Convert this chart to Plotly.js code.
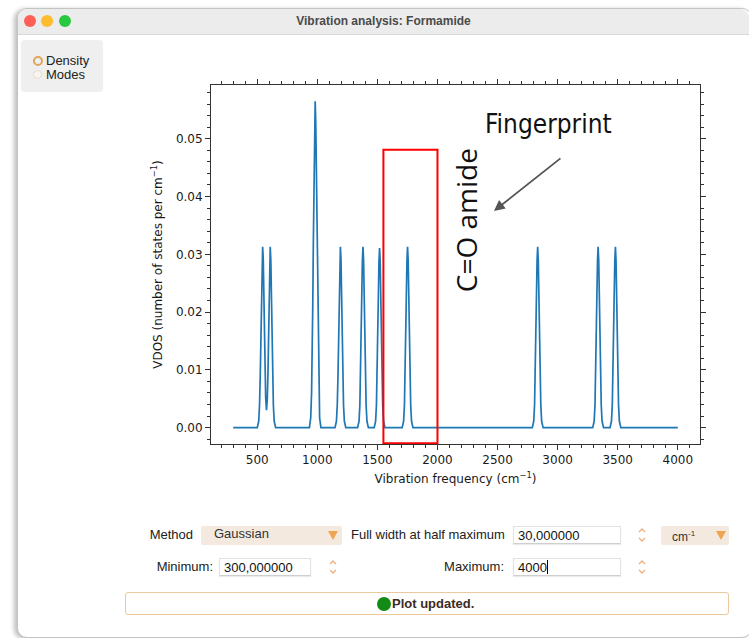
<!DOCTYPE html>
<html><head><meta charset="utf-8">
<script src="https://cdn.plot.ly/plotly-3.0.1.min.js"></script>
<style>
html,body{margin:0;padding:0;width:749px;height:638px;overflow:hidden;background:#fff;font-family:"Liberation Sans",Arial,sans-serif;}
.abs{position:absolute;}
#win{left:17px;top:8px;width:733px;height:628px;border:1px solid #c4c4c4;border-radius:10px;background:#fff;box-shadow:-3px 1px 4px rgba(0,0,0,0.25);}
#titlebar{left:18px;top:9px;width:731px;height:25px;background:#ececec;border-bottom:1px solid #d8d8d8;border-radius:9px 9px 0 0;}
.light{width:12px;height:12px;border-radius:50%;top:15px;}
#wtitle{left:18px;width:731px;top:14px;text-align:center;font-weight:bold;font-size:12px;color:#4a4a4a;line-height:14px;}
#panel{left:21px;top:40px;width:82px;height:52px;background:#efefef;border-radius:4px;}
.lbl{font-size:13px;color:#222;line-height:16px;height:16px;white-space:nowrap;}
.rlbl{text-align:right;}
.drop{background:#f4e9df;height:19px;border-radius:2px;}
.tri{width:0;height:0;border-left:5px solid transparent;border-right:5px solid transparent;border-top:9px solid #f0a452;}
.inp{background:#fff;height:18px;border:1px solid #e3e3e3;border-bottom-color:#cfcfcf;box-shadow:0 1px 1px rgba(0,0,0,0.08);font-size:13px;line-height:18px;color:#111;padding-left:4px;box-sizing:border-box;}
#chart{left:0;top:0;width:749px;height:638px;z-index:1;}
.ui{z-index:2;}
</style>
</head><body>
<div id="win" class="abs"></div>
<div id="titlebar" class="abs"></div>
<div class="abs light" style="left:24px;background:#fe5f57;"></div>
<div class="abs light" style="left:41px;background:#febc2e;"></div>
<div class="abs light" style="left:59px;background:#28c840;"></div>
<div id="wtitle" class="abs">Vibration analysis: Formamide</div>
<div id="panel" class="abs"></div>
<div class="abs" style="left:33px;top:56px;width:6px;height:6px;border:2.5px solid #e2a55e;border-radius:50%;"></div>
<div class="abs lbl" style="left:46px;top:53px;">Density</div>
<div class="abs" style="left:33px;top:70px;width:9px;height:9px;border:1px solid #e6d9cb;background:#f8f4ef;border-radius:50%;box-sizing:border-box;"></div>
<div class="abs lbl" style="left:46px;top:67px;">Modes</div>

<div id="chart" class="abs"></div>

<div class="abs lbl rlbl ui" style="left:100px;width:93px;top:527px;">Method</div>
<div class="abs drop ui" style="left:201px;top:526px;width:141px;"></div>
<div class="abs lbl ui" style="left:214px;top:526px;color:#333;">Gaussian</div>
<div class="abs tri ui" style="left:328px;top:531px;"></div>
<div class="abs lbl ui" style="left:351px;top:527px;">Full width at half maximum</div>
<div class="abs inp ui" style="left:513px;top:526px;width:108px;">30,000000</div>
<svg class="abs ui" style="left:637px;top:527px;" width="10" height="17"><polyline points="2,5 5,2 8,5" fill="none" stroke="#eab27a" stroke-width="1.3"/><polyline points="2,11 5,14 8,11" fill="none" stroke="#eab27a" stroke-width="1.3"/></svg>
<div class="abs drop ui" style="left:661px;top:526px;width:68px;"></div>
<div class="abs lbl ui" style="left:672px;top:526px;color:#333;font-size:12px;">cm<sup style="font-size:8px;">-1</sup></div>
<div class="abs tri ui" style="left:716px;top:531px;"></div>

<div class="abs lbl rlbl ui" style="left:100px;width:113px;top:559px;">Minimum:</div>
<div class="abs inp ui" style="left:219px;top:558px;width:92px;">300,000000</div>
<svg class="abs ui" style="left:328px;top:559px;" width="10" height="17"><polyline points="2,5 5,2 8,5" fill="none" stroke="#eab27a" stroke-width="1.3"/><polyline points="2,11 5,14 8,11" fill="none" stroke="#eab27a" stroke-width="1.3"/></svg>
<div class="abs lbl rlbl ui" style="left:400px;width:104px;top:559px;">Maximum:</div>
<div class="abs inp ui" style="left:513px;top:558px;width:108px;">4000<span style="display:inline-block;width:1px;height:14px;background:#000;vertical-align:-2px;"></span></div>
<svg class="abs ui" style="left:637px;top:559px;" width="10" height="17"><polyline points="2,5 5,2 8,5" fill="none" stroke="#eab27a" stroke-width="1.3"/><polyline points="2,11 5,14 8,11" fill="none" stroke="#eab27a" stroke-width="1.3"/></svg>

<div class="abs ui" style="left:125px;top:592px;width:604px;height:23px;border:1px solid #ebc99c;border-radius:3px;box-sizing:border-box;background:#fff;"></div>
<div class="abs ui" style="left:377px;top:597px;width:14px;height:14px;border-radius:50%;background:#138a13;"></div>
<div class="abs lbl ui" style="left:392px;top:596px;font-weight:bold;color:#3d2b1f;">Plot updated.</div>

<script>
// Vibrational density of states of formamide
var freqCm1 = [300,
  500, 512, 519, 525, 530, 535, 540, 545, 550, 555, 560, 565, 570, 577, 584, 589, 594, 599, 603, 608, 613, 618, 623, 628, 634, 641, 653,
  934, 945, 952, 957, 962, 967, 972, 977, 982, 987, 992, 997, 1002, 1007, 1012, 1019, 1030,
  1147, 1159, 1166, 1172, 1177, 1182, 1187, 1192, 1197, 1202, 1207, 1212, 1218, 1225, 1237,
  1335, 1347, 1354, 1360, 1365, 1370, 1375, 1380, 1385, 1390, 1395, 1400, 1406, 1413, 1425,
  1473, 1485, 1492, 1498, 1503, 1508, 1513, 1518, 1523, 1528, 1533, 1538, 1544, 1551, 1563,
  1706, 1718, 1725, 1731, 1736, 1741, 1746, 1751, 1756, 1761, 1766, 1771, 1777, 1784, 1796,
  2789, 2801, 2808, 2814, 2819, 2824, 2829, 2834, 2839, 2844, 2849, 2854, 2860, 2867, 2879,
  3292, 3304, 3311, 3317, 3322, 3327, 3332, 3337, 3342, 3347, 3352, 3357, 3363, 3370, 3382,
  3436, 3448, 3455, 3461, 3466, 3471, 3476, 3481, 3486, 3491, 3496, 3501, 3507, 3514, 3526,
  4000];
var vdos = [0,
  0, 0.0011, 0.0039, 0.0091, 0.0156, 0.0230, 0.0290, 0.0313, 0.0291, 0.0232, 0.0157, 0.0093, 0.0052, 0.0030, 0.0052, 0.0093, 0.0157, 0.0232, 0.0291, 0.0313, 0.0290, 0.0230, 0.0156, 0.0091, 0.0039, 0.0011, 0,
  0, 0.0017, 0.0059, 0.0119, 0.0210, 0.0324, 0.0440, 0.0528, 0.0565, 0.0528, 0.0440, 0.0324, 0.0210, 0.0119, 0.0059, 0.0017, 0,
  0, 0.0011, 0.0039, 0.0091, 0.0156, 0.0230, 0.0290, 0.0313, 0.0290, 0.0230, 0.0156, 0.0091, 0.0039, 0.0011, 0,
  0, 0.0011, 0.0039, 0.0091, 0.0156, 0.0230, 0.0290, 0.0313, 0.0290, 0.0230, 0.0156, 0.0091, 0.0039, 0.0011, 0,
  0, 0.0011, 0.0039, 0.0090, 0.0155, 0.0228, 0.0288, 0.0311, 0.0288, 0.0228, 0.0155, 0.0090, 0.0039, 0.0011, 0,
  0, 0.0011, 0.0039, 0.0091, 0.0156, 0.0230, 0.0290, 0.0313, 0.0290, 0.0230, 0.0156, 0.0091, 0.0039, 0.0011, 0,
  0, 0.0011, 0.0039, 0.0091, 0.0156, 0.0230, 0.0290, 0.0313, 0.0290, 0.0230, 0.0156, 0.0091, 0.0039, 0.0011, 0,
  0, 0.0011, 0.0039, 0.0091, 0.0156, 0.0230, 0.0290, 0.0313, 0.0290, 0.0230, 0.0156, 0.0091, 0.0039, 0.0011, 0,
  0, 0.0011, 0.0039, 0.0091, 0.0156, 0.0230, 0.0290, 0.0313, 0.0290, 0.0230, 0.0156, 0.0091, 0.0039, 0.0011, 0,
  0];
var fingerprintRange = [1550, 2000];

var tickFont = {family: 'DejaVu Sans, sans-serif', size: 12, color: '#1a1a1a'};
var axisCommon = {
  showline: true, linecolor: '#333', linewidth: 1, mirror: 'ticks',
  ticks: 'outside', ticklen: 5, tickwidth: 1, tickcolor: '#333',
  showgrid: false, zeroline: false, tickfont: tickFont
};

var trace = {x: freqCm1, y: vdos, type: 'scatter', mode: 'lines',
  line: {color: '#1f77b4', width: 1.7}, hoverinfo: 'skip'};

var layout = {
  width: 749, height: 638,
  margin: {l: 211, r: 49, t: 85, b: 194},
  paper_bgcolor: 'rgba(0,0,0,0)', plot_bgcolor: '#fff',
  showlegend: false,
  xaxis: Object.assign({}, axisCommon, {
    range: [115, 4185], dtick: 500, tick0: 0,
    minor: {dtick: 100, ticks: 'outside', ticklen: 3, tickcolor: '#333', tickwidth: 1},
    title: {text: 'Vibration frequency (cm<sup>\u22121</sup>)', font: {family: 'DejaVu Sans, sans-serif', size: 12, color: '#1a1a1a'}, standoff: 8}
  }),
  yaxis: Object.assign({}, axisCommon, {
    range: [-0.00283, 0.0593], dtick: 0.01, tick0: 0, tickformat: '.2f',
    minor: {dtick: 0.002, ticks: 'outside', ticklen: 3, tickcolor: '#333', tickwidth: 1},
    title: {text: 'VDOS (number of states per cm<sup>\u22121</sup>)', font: {family: 'DejaVu Sans, sans-serif', size: 12, color: '#1a1a1a'}, standoff: 10}
  }),
  shapes: [{type: 'rect', xref: 'x', yref: 'y', x0: fingerprintRange[0], x1: fingerprintRange[1], y0: -0.0027, y1: 0.0481,
    line: {color: '#ff0000', width: 2}, fillcolor: 'rgba(0,0,0,0)', layer: 'above'}],
  annotations: [
    {xref: 'x', yref: 'y', x: 2928, y: 0.0525, text: 'Fingerprint', showarrow: false,
     font: {family: 'Liberation Sans Narrow, DejaVu Sans Condensed, Roboto, sans-serif', size: 26, color: '#111'}},
    {xref: 'x', yref: 'y', x: 2237, y: 0.0359, text: 'C=O amide', showarrow: false, textangle: -90,
     font: {family: 'Open Sans, sans-serif', size: 28, color: '#111'}},
    {xref: 'x', yref: 'y', x: 2470, y: 0.0375, axref: 'x', ayref: 'y', ax: 3036, ay: 0.0468,
     text: '', showarrow: true, arrowhead: 2, arrowsize: 1.2, arrowwidth: 1.8, arrowcolor: '#555'}
  ]
};

Plotly.newPlot('chart', [trace], layout, {displayModeBar: false, staticPlot: true});
</script>
</body></html>
